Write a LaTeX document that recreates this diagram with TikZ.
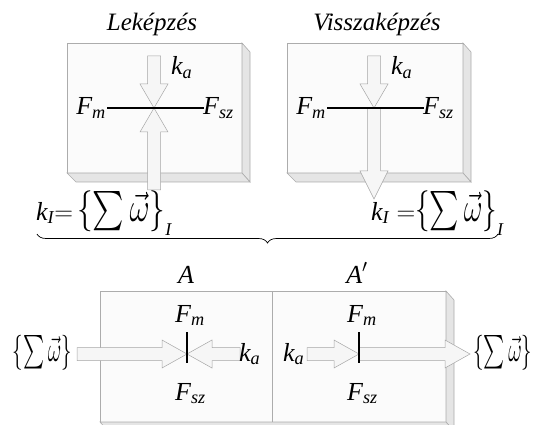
\RequirePackage{fix-cm}
\documentclass[tikz,border=0pt]{standalone}
\usepackage{amsmath}
\usepackage{exscale}
\usepackage{graphicx}
\usepackage{fontspec}
\setmainfont{Liberation Serif}
\usetikzlibrary{decorations.pathreplacing}

\newcommand{\Sy}[2]{$\textit{#1}_{\textit{#2}}$}
\newcommand{\SumExpr}{$\left\{\sum\vec{\omega}\right\}$}
% #1 width, #2 total height, #3 depth below the baseline
\newcommand{\SumBox}[3]{\raisebox{-#3}{\resizebox*{#1}{#2}{\raisebox{\depth}{\SumExpr}}}}
\newcommand{\LowI}{\raisebox{-15pt}{\fontsize{18}{20}\selectfont\textit{I}}}

\begin{document}
\begin{tikzpicture}[x=1pt,y=-1pt,
  face/.style={draw=gray!65, fill=gray!3, line width=0.6pt},
  side/.style={draw=gray!65, fill=gray!20, line width=0.6pt},
  blk/.style={draw=gray!70, fill=gray!7, line width=0.5pt},
  bar/.style={line width=1.8pt, black},
  lbl/.style={inner sep=0pt, font=\fontsize{26}{30}\selectfont},
  ttl/.style={inner sep=0pt, font=\fontsize{25}{30}\selectfont\itshape}]
\useasboundingbox (0,0) rectangle (533,425);

% ---------- top left box ----------
\draw[face] (67,43) rectangle (242,173);
\draw[side] (242,43) -- (250,52) -- (250,182) -- (242,173) -- cycle;
\draw[side] (67,173) -- (242,173) -- (250,182) -- (76,182) -- cycle;
% ---------- top right box ----------
\draw[face] (287,43) rectangle (463,173);
\draw[side] (463,43) -- (471,52) -- (471,182) -- (463,173) -- cycle;
\draw[side] (287,173) -- (463,173) -- (471,182) -- (296,182) -- cycle;
% ---------- bottom box ----------
\draw[face] (100,291) rectangle (446,422);
\draw[side] (446,291) -- (454,300) -- (454,431) -- (446,422) -- cycle;
\draw[side] (100,422) -- (446,422) -- (454,431) -- (108,431) -- cycle;
\draw[draw=gray!65, line width=0.6pt] (272,291) -- (272,422);

% ---------- arrows, top left ----------
\draw[blk] (147.5,56) -- (160.5,56) -- (160.5,84) -- (168,84) -- (154,108)
  -- (140,84) -- (147.5,84) -- cycle;
\draw[blk] (147.5,190) -- (160.5,190) -- (160.5,132) -- (168,132) -- (154,108)
  -- (140,132) -- (147.5,132) -- cycle;
% ---------- arrows, top right ----------
\draw[blk] (367.5,56) -- (380.5,56) -- (380.5,84) -- (388,84) -- (374,108)
  -- (360,84) -- (367.5,84) -- cycle;
\draw[blk] (367.5,108) -- (380.5,108) -- (380.5,171) -- (388,171) -- (374,199)
  -- (360,171) -- (367.5,171) -- cycle;
% ---------- arrows, bottom ----------
\draw[blk] (77,347.5) -- (162,347.5) -- (162,340) -- (187,354) -- (162,368)
  -- (162,360.5) -- (77,360.5) -- cycle;
\draw[blk] (240,347.5) -- (212,347.5) -- (212,340) -- (187,354) -- (212,368)
  -- (212,360.5) -- (240,360.5) -- cycle;
\draw[blk] (307,347.5) -- (334,347.5) -- (334,340) -- (359,354) -- (334,368)
  -- (334,360.5) -- (307,360.5) -- cycle;
\draw[blk] (359,347.5) -- (445,347.5) -- (445,340) -- (470,354) -- (445,368)
  -- (445,360.5) -- (359,360.5) -- cycle;

% ---------- bars ----------
\coordinate (l1) at (107,108); \coordinate (r1) at (204,108);
\coordinate (l2) at (327,108); \coordinate (r2) at (424,108);
\coordinate (t3) at (187,332); \coordinate (b3) at (187,363);
\coordinate (t4) at (359,332); \coordinate (b4) at (359,363);
\draw[bar] (l1) -- (r1);
\draw[bar] (l2) -- (r2);
\draw[bar] (t3) -- (b3);
\draw[bar] (t4) -- (b4);

% ---------- titles ----------
\node[ttl, anchor=base] (tl) at (152,31) {Leképzés};
\node[ttl, anchor=base] (tr) at (377,31) {Visszaképzés};

% ---------- top labels ----------
\node[lbl, anchor=base east] (fm1) at (106,115) {\Sy{F}{m}};
\node[lbl, anchor=base west] (fs1) at (203,115) {\Sy{F}{sz}};
\node[lbl, anchor=base west] (ka1) at (171,75) {\Sy{k}{a}};
\node[lbl, anchor=base east] (fm2) at (326,115) {\Sy{F}{m}};
\node[lbl, anchor=base west] (fs2) at (423,115) {\Sy{F}{sz}};
\node[lbl, anchor=base west] (ka2) at (391,75) {\Sy{k}{a}};

% ---------- brace labels ----------
\node[lbl, anchor=base west] (kl) at (36,220)
  {$\textit{k}_{\textit{I}}{=}$\,\SumBox{88pt}{41pt}{12pt}\LowI};
\node[lbl, anchor=base west] (kr) at (371,220)
  {$\textit{k}_{\textit{I}} = $\SumBox{82pt}{41pt}{12pt}\LowI};
\coordinate (bl) at (37,234);
\coordinate (br) at (498,234);
\draw[decorate, decoration={brace, mirror, amplitude=9pt}, line width=0.7pt]
  (bl) -- (br);

% ---------- bottom labels ----------
\node[lbl, anchor=base] (A) at (186,283) {\textit{A}};
\node[lbl, anchor=base west] (fm3) at (175,322) {\Sy{F}{m}};
\node[lbl, anchor=base west] (fs3) at (175,400) {\Sy{F}{sz}};
\node[lbl, anchor=base] (Ap) at (357,283) {$\textit{A}'$};
\node[lbl, anchor=base west] (fm4) at (347,322) {\Sy{F}{m}};
\node[lbl, anchor=base west] (fs4) at (347,400) {\Sy{F}{sz}};
\node[lbl, anchor=base west] (ka3) at (239,361) {\Sy{k}{a}};
\node[lbl, anchor=base west] (ka4) at (283,361) {\Sy{k}{a}};
\node[lbl, anchor=east] (sl) at (72,352.5) {\resizebox*{59pt}{35pt}{\SumExpr}};
\node[lbl, anchor=west] (sr) at (473,352.5) {\resizebox*{59pt}{35pt}{\SumExpr}};
\end{tikzpicture}
\end{document}
